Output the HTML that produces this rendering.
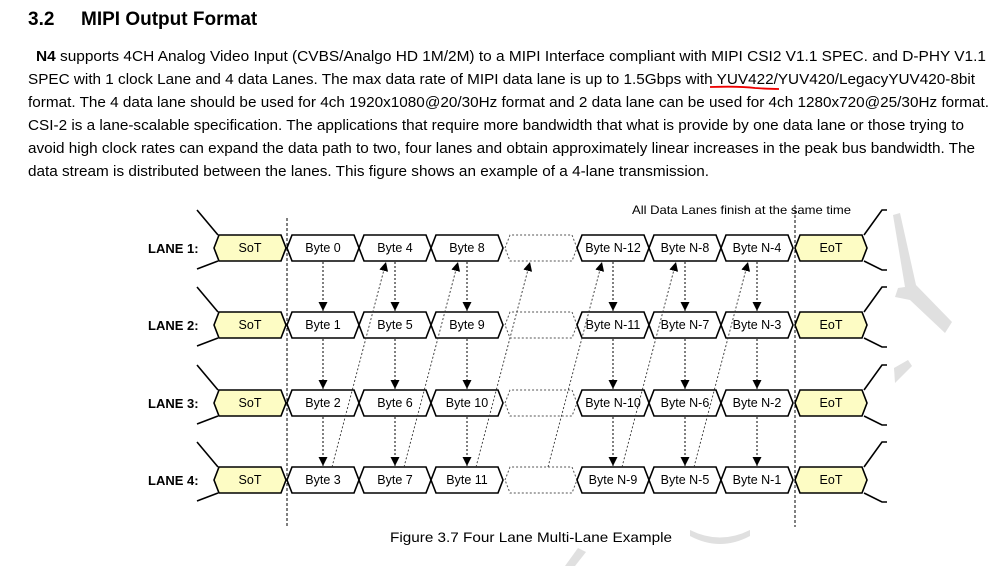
<!DOCTYPE html>
<html><head><meta charset="utf-8"><style>
html,body{margin:0;padding:0;background:#fff;}
svg{display:block;}
text{font-family:"Liberation Sans",Arial,sans-serif;fill:#000;}
</style></head><body>
<svg width="999" height="566" viewBox="0 0 999 566" xmlns="http://www.w3.org/2000/svg">
<defs>
<polygon id="hx" points="0,0 5,-13 67,-13 72,0 67,13 5,13" fill="#fff" stroke="#000" stroke-width="1.6"/>
<polygon id="hy" points="0,0 5,-13 67,-13 72,0 67,13 5,13" fill="#fdfcc4" stroke="#000" stroke-width="1.6"/>
<polygon id="hd" points="0,0 5,-13 67,-13 72,0 67,13 5,13" fill="#fff" stroke="#555" stroke-width="1" stroke-dasharray="2,2"/>
<g id="br" fill="none" stroke="#000" stroke-width="1.6">
<polyline points="197,-38 218,-13"/><polyline points="218,13 197,21"/>
<polyline points="864,-13 882,-38 887,-38"/><polyline points="864,13 882,22 887,22"/>
</g>
<marker id="ah" markerWidth="10" markerHeight="10" refX="9" refY="4.5" orient="auto" markerUnits="userSpaceOnUse" viewBox="0 0 10 10">
<polygon points="0,0 9,4.5 0,9" fill="#000"/></marker>
</defs>

<!-- watermark -->
<g fill="#e0e0e0">
<polygon points="893,215 900,213 916,285 952,322 945,333 910,300 895,297 898,288 905,287"/>
<polygon points="894,368 908,360 912,366 895,383"/>
<path d="M690,530 Q720,545 750,530 L750,536 Q720,552 690,536 Z"/>
<polygon points="565,566 578,548 586,552 575,566"/>
</g>

<!-- heading -->
<text x="28" y="25" font-size="19" font-weight="bold">3.2</text>
<text x="81" y="25" font-size="19" font-weight="bold">MIPI Output Format</text>

<g font-size="14.3">
<text x="36" y="61" textLength="950" lengthAdjust="spacingAndGlyphs"><tspan font-weight="bold">N4</tspan> supports 4CH Analog Video Input (CVBS/Analgo HD 1M/2M) to a MIPI Interface compliant with MIPI CSI2 V1.1 SPEC. and D-PHY V1.1</text>
<text x="28" y="84" textLength="947" lengthAdjust="spacingAndGlyphs">SPEC with 1 clock Lane and 4 data Lanes. The max data rate of MIPI data lane is up to 1.5Gbps with YUV422/YUV420/LegacyYUV420-8bit</text>
<text x="28" y="107" textLength="961" lengthAdjust="spacingAndGlyphs">format. The 4 data lane should be used for 4ch 1920x1080@20/30Hz format and 2 data lane can be used for 4ch 1280x720@25/30Hz format.</text>
<text x="28" y="130" textLength="936" lengthAdjust="spacingAndGlyphs">CSI-2 is a lane-scalable specification. The applications that require more bandwidth that what is provide by one data lane or those trying to</text>
<text x="28" y="153" textLength="947" lengthAdjust="spacingAndGlyphs">avoid high clock rates can expand the data path to two, four lanes and obtain approximately linear increases in the peak bus bandwidth. The</text>
<text x="28" y="176" textLength="681" lengthAdjust="spacingAndGlyphs">data stream is distributed between the lanes. This figure shows an example of a 4-lane transmission.</text>
</g>
<path d="M710,87 Q740,86 755,88 Q770,89 779,89" fill="none" stroke="#e00" stroke-width="1.8"/>

<text x="632" y="214" font-size="12" textLength="219" lengthAdjust="spacingAndGlyphs">All Data Lanes finish at the same time</text>

<!-- dashed verticals -->
<line x1="287" y1="218" x2="287" y2="527" stroke="#000" stroke-width="1" stroke-dasharray="3,2"/>
<line x1="795" y1="205" x2="795" y2="527" stroke="#000" stroke-width="1" stroke-dasharray="3,2"/>

<!-- lanes -->
<g transform="translate(0,248)">
<use href="#br"/>
<use href="#hy" x="214"/><use href="#hx" x="287"/><use href="#hx" x="359"/><use href="#hx" x="431"/>
<use href="#hd" x="505"/><use href="#hx" x="577"/><use href="#hx" x="649"/><use href="#hx" x="721"/><use href="#hy" x="795"/>
</g>
<g transform="translate(0,325)">
<use href="#br"/>
<use href="#hy" x="214"/><use href="#hx" x="287"/><use href="#hx" x="359"/><use href="#hx" x="431"/>
<use href="#hd" x="505"/><use href="#hx" x="577"/><use href="#hx" x="649"/><use href="#hx" x="721"/><use href="#hy" x="795"/>
</g>
<g transform="translate(0,403)">
<use href="#br"/>
<use href="#hy" x="214"/><use href="#hx" x="287"/><use href="#hx" x="359"/><use href="#hx" x="431"/>
<use href="#hd" x="505"/><use href="#hx" x="577"/><use href="#hx" x="649"/><use href="#hx" x="721"/><use href="#hy" x="795"/>
</g>
<g transform="translate(0,480)">
<use href="#br"/>
<use href="#hy" x="214"/><use href="#hx" x="287"/><use href="#hx" x="359"/><use href="#hx" x="431"/>
<use href="#hd" x="505"/><use href="#hx" x="577"/><use href="#hx" x="649"/><use href="#hx" x="721"/><use href="#hy" x="795"/>
</g>

<!-- vertical dotted arrows -->
<g stroke="#000" stroke-width="1" stroke-dasharray="2,2" marker-end="url(#ah)">
<line x1="323" y1="262" x2="323" y2="311"/><line x1="395" y1="262" x2="395" y2="311"/><line x1="467" y1="262" x2="467" y2="311"/>
<line x1="613" y1="262" x2="613" y2="311"/><line x1="685" y1="262" x2="685" y2="311"/><line x1="757" y1="262" x2="757" y2="311"/>
<line x1="323" y1="339" x2="323" y2="389"/><line x1="395" y1="339" x2="395" y2="389"/><line x1="467" y1="339" x2="467" y2="389"/>
<line x1="613" y1="339" x2="613" y2="389"/><line x1="685" y1="339" x2="685" y2="389"/><line x1="757" y1="339" x2="757" y2="389"/>
<line x1="323" y1="417" x2="323" y2="466"/><line x1="395" y1="417" x2="395" y2="466"/><line x1="467" y1="417" x2="467" y2="466"/>
<line x1="613" y1="417" x2="613" y2="466"/><line x1="685" y1="417" x2="685" y2="466"/><line x1="757" y1="417" x2="757" y2="466"/>
</g>
<!-- diagonal dotted arrows -->
<g stroke="#333" stroke-width="0.9" stroke-dasharray="2,2" marker-end="url(#ah)">
<line x1="332" y1="467" x2="386" y2="262"/><line x1="404" y1="467" x2="458" y2="262"/><line x1="476" y1="467" x2="530" y2="262"/>
<line x1="548" y1="467" x2="602" y2="262"/><line x1="622" y1="467" x2="676" y2="262"/><line x1="694" y1="467" x2="748" y2="262"/>
</g>

<!-- labels -->
<g font-size="13" font-weight="bold">
<text x="148" y="253">LANE 1:</text><text x="148" y="330">LANE 2:</text><text x="148" y="408">LANE 3:</text><text x="148" y="485">LANE 4:</text>
</g>
<g font-size="12.5" text-anchor="middle">
<text x="250" y="252">SoT</text><text x="323" y="252">Byte 0</text><text x="395" y="252">Byte 4</text><text x="467" y="252">Byte 8</text>
<text x="613" y="252">Byte N-12</text><text x="685" y="252">Byte N-8</text><text x="757" y="252">Byte N-4</text><text x="831" y="252">EoT</text>
<text x="250" y="329">SoT</text><text x="323" y="329">Byte 1</text><text x="395" y="329">Byte 5</text><text x="467" y="329">Byte 9</text>
<text x="613" y="329">Byte N-11</text><text x="685" y="329">Byte N-7</text><text x="757" y="329">Byte N-3</text><text x="831" y="329">EoT</text>
<text x="250" y="407">SoT</text><text x="323" y="407">Byte 2</text><text x="395" y="407">Byte 6</text><text x="467" y="407">Byte 10</text>
<text x="613" y="407">Byte N-10</text><text x="685" y="407">Byte N-6</text><text x="757" y="407">Byte N-2</text><text x="831" y="407">EoT</text>
<text x="250" y="484">SoT</text><text x="323" y="484">Byte 3</text><text x="395" y="484">Byte 7</text><text x="467" y="484">Byte 11</text>
<text x="613" y="484">Byte N-9</text><text x="685" y="484">Byte N-5</text><text x="757" y="484">Byte N-1</text><text x="831" y="484">EoT</text>
</g>

<text x="390" y="542" font-size="14" textLength="282" lengthAdjust="spacingAndGlyphs">Figure 3.7 Four Lane Multi-Lane Example</text>
</svg>
</body></html>
